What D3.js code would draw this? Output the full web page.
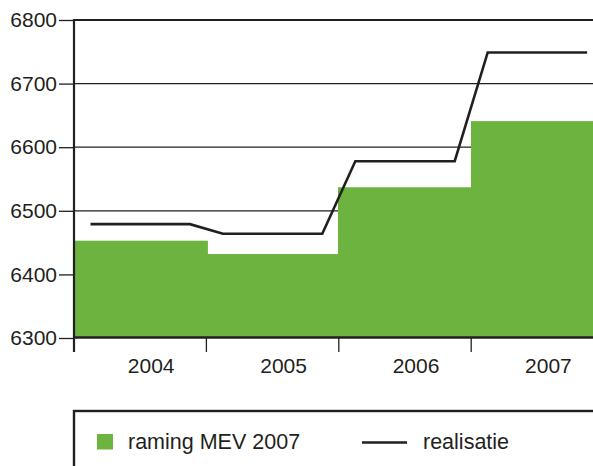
<!DOCTYPE html>
<html>
<head>
<meta charset="utf-8">
<script src="https://cdn.jsdelivr.net/npm/d3@7"></script>
<style>
  html, body { margin: 0; padding: 0; background: #fff; }
  svg { display: block; }
  text { font-family: "Liberation Sans", Arial, sans-serif; fill: #231f20; }
</style>
</head>
<body>
<svg id="chart" width="593" height="466"></svg>
<script>
const years = ["2004", "2005", "2006", "2007"];
const raming = [6453, 6432, 6537, 6641];
const realisatie = [6479, 6464, 6578, 6749];
const yTicks = [6300, 6400, 6500, 6600, 6700, 6800];
const legendLabels = ["raming MEV 2007", "realisatie"];

(function () {
const ink = "#231f20";
const green = "#6db33f";
const svg = d3.select("#chart");

const mLeft = 74, mTop = 20, mBottom = 338;
const bandW = 132.4;
const x = d3.scaleBand().domain(years).range([mLeft, mLeft + bandW * years.length]).padding(0);
const y = d3.scaleLinear().domain([6300, 6800]).range([mBottom, mTop]);

// grid lines
svg.append("g").selectAll("line")
  .data(yTicks.filter(t => t > 6300))
  .join("line")
  .attr("x1", mLeft).attr("x2", 593)
  .attr("y1", d => y(d)).attr("y2", d => y(d))
  .attr("stroke", ink)
  .attr("stroke-width", d => d === 6800 ? 2.2 : 1.3);

// bars (slightly overlapped to avoid seams)
svg.append("g").selectAll("rect")
  .data(years.map((yr, i) => ({ yr, v: raming[i] })))
  .join("rect")
  .attr("x", d => Math.floor(x(d.yr)))
  .attr("width", x.bandwidth() + 1.5)
  .attr("y", d => y(d.v))
  .attr("height", d => y(6300) - y(d.v))
  .attr("fill", green);

// realisatie line
const inset = 16.5;
const pts = [];
years.forEach((yr, i) => {
  pts.push([x(yr) + inset, y(realisatie[i])]);
  pts.push([x(yr) + x.bandwidth() - inset, y(realisatie[i])]);
});
svg.append("path")
  .attr("d", d3.line()(pts))
  .attr("fill", "none")
  .attr("stroke", ink)
  .attr("stroke-width", 2.6)
  .attr("stroke-linejoin", "miter");

// y axis
const yAxis = d3.axisLeft(y).tickValues(yTicks).tickSize(15).tickPadding(2).tickFormat(d3.format("d"));
const gy = svg.append("g").attr("transform", `translate(${mLeft},0)`).call(yAxis);
gy.select(".domain").remove();
gy.selectAll(".tick line").attr("stroke", ink).attr("stroke-width", 1.3);
gy.selectAll(".tick text").attr("font-size", 21).attr("fill", ink)
  .style("font-family", "'Liberation Sans', Arial, sans-serif");

// left axis line
svg.append("line")
  .attr("x1", mLeft).attr("x2", mLeft)
  .attr("y1", mTop - 1).attr("y2", 352)
  .attr("stroke", ink).attr("stroke-width", 2.2);

// x axis line
svg.append("line")
  .attr("x1", mLeft).attr("x2", 593)
  .attr("y1", y(6300) - 0.5).attr("y2", y(6300) - 0.5)
  .attr("stroke", ink).attr("stroke-width", 2.4);

// x ticks at band boundaries
svg.append("g").selectAll("line")
  .data(years.slice(1))
  .join("line")
  .attr("x1", d => x(d)).attr("x2", d => x(d))
  .attr("y1", y(6300)).attr("y2", 352)
  .attr("stroke", ink).attr("stroke-width", 1.3);

// x labels
svg.append("g").selectAll("text")
  .data(years)
  .join("text")
  .attr("x", d => x(d) + x.bandwidth() / 2 + 11)
  .attr("y", 373)
  .attr("text-anchor", "middle")
  .attr("font-size", 21)
  .text(d => d);

// legend box
svg.append("rect")
  .attr("x", mLeft).attr("y", 411)
  .attr("width", 600).attr("height", 100)
  .attr("fill", "none")
  .attr("stroke", ink).attr("stroke-width", 2.4);

svg.append("rect")
  .attr("x", 97).attr("y", 434)
  .attr("width", 16).attr("height", 15.5)
  .attr("fill", green);
svg.append("text")
  .attr("x", 128).attr("y", 449)
  .attr("font-size", 21.5)
  .text(legendLabels[0]);

svg.append("line")
  .attr("x1", 362).attr("x2", 407)
  .attr("y1", 442.5).attr("y2", 442.5)
  .attr("stroke", ink).attr("stroke-width", 2.6);
svg.append("text")
  .attr("x", 423).attr("y", 449)
  .attr("font-size", 21.5)
  .text(legendLabels[1]);
})();
</script>
</body>
</html>
